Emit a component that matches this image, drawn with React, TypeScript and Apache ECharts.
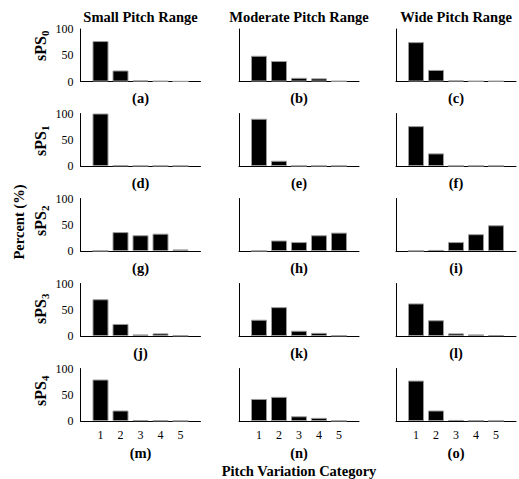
import React, { useEffect, useRef } from "react";
import * as echarts from "echarts";

const categories = [1, 2, 3, 4, 5];
const xTickLabels = ["1", "2", "3", "4", "5"];
const yTicks = [0, 50, 100];
const columnTitles = ["Small Pitch Range", "Moderate Pitch Range", "Wide Pitch Range"];
const rowSubscripts = ["0", "1", "2", "3", "4"];
const panelLetters = ["a", "b", "c", "d", "e", "f", "g", "h", "i", "j", "k", "l", "m", "n", "o"];

// each row: [small, moderate, wide]
const sPS0 = [
  [77, 21, 2, 1, 0.3],
  [49, 39, 7, 6, 1],
  [75, 22, 2, 1, 1],
];
const sPS1 = [
  [100, 1, 0.3, 0.3, 0.3],
  [90, 10, 0.3, 0.3, 0.3],
  [76, 24, 0.3, 0.3, 0.3],
];
const sPS2 = [
  [0.3, 36, 30, 33, 3],
  [0.3, 20, 17, 30, 35],
  [0.3, 2, 17, 32, 49],
];
const sPS3 = [
  [70, 23, 3, 5, 1],
  [31, 55, 10, 6, 1],
  [62, 30, 5, 3, 1.5],
];
const sPS4 = [
  [79, 20, 1.5, 1, 0.3],
  [42, 46, 9, 6, 0.5],
  [77, 20, 2, 1, 0.5],
];
const rows = [sPS0, sPS1, sPS2, sPS3, sPS4];

const FONT = "'Liberation Serif', 'Times New Roman', serif";
const colLefts = [80.5, 239, 396];
const gridWidth = 120;
const rowTops = [29, 113.5, 198.5, 283.5, 368.5];
const gridHeight = 52.5;
const rowLabelCenters = [46, 141, 221, 309, 391];

export default function App() {
  const ref = useRef<HTMLDivElement>(null);
  useEffect(() => {
    if (!ref.current) return;
    const chart = echarts.init(ref.current, null, { renderer: "svg" });
    const grids: any[] = [];
    const xAxes: any[] = [];
    const yAxes: any[] = [];
    const series: any[] = [];
    rows.forEach((row, r) => {
      row.forEach((vals, c) => {
        const idx = r * 3 + c;
        const isBottom = r === rows.length - 1;
        grids.push({ left: colLefts[c], top: rowTops[r], width: gridWidth, height: gridHeight });
        xAxes.push({
          type: "value",
          gridIndex: idx,
          min: 0,
          max: 6,
          interval: 1,
          name: "(" + panelLetters[idx] + ")",
          nameLocation: "middle",
          nameGap: isBottom ? 24.5 : 9,
          nameTextStyle: { fontFamily: FONT, fontWeight: "bold", fontSize: 14.5, color: "#000" },
          axisLine: { show: true, onZero: false, lineStyle: { color: "#000", width: 1 } },
          axisTick: { show: false },
          splitLine: { show: false },
          axisLabel: {
            show: isBottom,
            fontFamily: FONT,
            fontSize: 12,
            color: "#000",
            margin: 8,
            formatter: (v: number) => {
              const i = categories.indexOf(v);
              return i >= 0 ? xTickLabels[i] : "";
            },
          },
        });
        yAxes.push({
          type: "value",
          gridIndex: idx,
          min: yTicks[0],
          max: yTicks[yTicks.length - 1],
          interval: 50,
          axisLine: { show: true, lineStyle: { color: "#000", width: 1 } },
          axisTick: { show: false },
          splitLine: { show: false },
          axisLabel: { show: c === 0, fontFamily: FONT, fontSize: 12, color: "#000", margin: 7 },
        });
        series.push({
          type: "bar",
          xAxisIndex: idx,
          yAxisIndex: idx,
          barWidth: 16,
          data: categories.map((x, i) => [x, vals[i]]),
          itemStyle: { color: "#000", borderColor: "#9a9a9a", borderWidth: 1 },
          silent: true,
        });
      });
    });

    const graphics: any[] = [];
    columnTitles.forEach((t, c) => {
      graphics.push({
        type: "text",
        x: colLefts[c] + gridWidth / 2,
        y: 17,
        style: {
          text: t,
          fontFamily: FONT,
          fontWeight: "bold",
          fontSize: 14.5,
          fill: "#000",
          textAlign: "center",
          textVerticalAlign: "middle",
        },
      });
    });
    rowSubscripts.forEach((s, r) => {
      graphics.push({
        type: "group",
        x: 40,
        y: rowLabelCenters[r],
        rotation: Math.PI / 2,
        children: [
          {
            type: "text",
            x: -15,
            y: 0,
            style: {
              text: "sPS",
              fontFamily: FONT,
              fontWeight: "bold",
              fontSize: 16,
              fill: "#000",
              textAlign: "left",
              textVerticalAlign: "middle",
            },
          },
          {
            type: "text",
            x: 10,
            y: 5,
            style: {
              text: s,
              fontFamily: FONT,
              fontWeight: "bold",
              fontSize: 11,
              fill: "#000",
              textAlign: "left",
              textVerticalAlign: "middle",
            },
          },
        ],
      });
    });
    graphics.push({
      type: "text",
      x: 19,
      y: 222,
      rotation: Math.PI / 2,
      style: {
        text: "Percent (%)",
        fontFamily: FONT,
        fontWeight: "bold",
        fontSize: 14.5,
        fill: "#000",
        textAlign: "center",
        textVerticalAlign: "middle",
      },
    });
    graphics.push({
      type: "text",
      x: colLefts[1] + gridWidth / 2,
      y: 471,
      style: {
        text: "Pitch Variation Category",
        fontFamily: FONT,
        fontWeight: "bold",
        fontSize: 14.5,
        fill: "#000",
        textAlign: "center",
        textVerticalAlign: "middle",
      },
    });

    chart.setOption({
      animation: false,
      backgroundColor: "#fff",
      grid: grids,
      xAxis: xAxes,
      yAxis: yAxes,
      series,
      graphic: graphics,
    });
    return () => chart.dispose();
  }, []);
  return (
    <div
      ref={ref}
      style={{ position: "absolute", left: 0, top: 0, width: 519, height: 479 }}
    />
  );
}
